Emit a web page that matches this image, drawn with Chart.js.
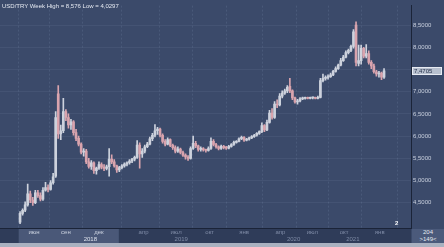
<!DOCTYPE html>
<html>
<head>
<meta charset="utf-8">
<script src="https://cdn.jsdelivr.net/npm/chart.js"></script>
<style>
html, body { margin: 0; padding: 0; background: #3b4a6a; }
#wrap { position: relative; width: 444px; height: 247px; overflow: hidden; }
#title { position: absolute; left: 2px; top: 3px; font: 6px 'Liberation Sans', Arial, sans-serif; color: #e4e8f0; white-space: nowrap; }
#corner { position: absolute; left: 412px; top: 229px; width: 32px; height: 14px; background: #4b5a7b; font: 6px 'Liberation Sans', Arial, sans-serif; color: #e4e8f0; text-align: center; line-height: 7px; }
#mark { position: absolute; left: 395px; top: 220px; font: bold 6px 'Liberation Sans', Arial, sans-serif; color: #ffffff; }
</style>
</head>
<body>
<div id="wrap">
  <canvas id="usdtry" width="444" height="247"></canvas>
  <div id="title">USD/TRY Week High = 8,576 Low = 4,0297</div>
  <div id="mark">2</div>
  <div id="corner">204<br>&gt;149&lt;</div>
</div>
<script>
// weekly candles, week 0 = 30 Apr 2018
var opens = [4.06,4.26,4.33,4.45,4.70,4.56,4.50,4.72,4.66,4.58,4.78,4.84,4.80,4.95,5.10,6.95,6.05,6.12,6.55,6.42,
  6.25,6.32,6.08,5.95,5.82,5.64,5.66,5.42,5.32,5.40,5.22,5.28,5.36,5.30,5.27,5.31,5.48,5.42,5.33,5.24,
  5.29,5.33,5.37,5.40,5.44,5.48,5.52,5.80,5.60,5.66,5.76,5.82,5.94,6.02,6.12,6.16,6.02,5.88,5.82,5.92,
  5.79,5.74,5.66,5.71,5.63,5.57,5.53,5.50,5.72,5.84,5.78,5.70,5.72,5.69,5.68,5.72,5.88,5.81,5.76,5.72,
  5.77,5.74,5.73,5.77,5.81,5.86,5.88,5.94,5.97,5.91,5.93,5.96,5.99,6.02,6.06,6.10,6.24,6.14,6.31,6.52,
  6.42,6.72,6.70,6.90,6.97,7.02,7.12,7.02,6.86,6.77,6.79,6.84,6.85,6.86,6.85,6.86,6.86,6.85,6.87,7.25,
  7.30,7.32,7.34,7.38,7.46,7.52,7.60,7.70,7.78,7.88,7.93,8.02,8.50,7.64,7.70,7.98,7.80,7.86,7.66,7.58,
  7.45,7.40,7.42,7.33];
var highs = [4.30,4.36,4.52,4.92,4.76,4.62,4.78,4.78,4.72,4.84,4.96,4.90,5.00,5.16,6.55,7.14,6.25,6.85,6.60,6.50,
  6.38,6.35,6.15,6.00,5.85,5.72,5.70,5.50,5.45,5.42,5.30,5.42,5.40,5.36,5.35,5.72,5.58,5.47,5.35,5.32,
  5.36,5.40,5.42,5.47,5.50,5.55,5.90,5.85,5.72,5.80,5.86,5.98,6.06,6.26,6.20,6.18,6.05,5.92,5.96,5.94,
  5.82,5.78,5.76,5.73,5.66,5.60,5.56,5.76,6.00,5.88,5.80,5.76,5.74,5.71,5.76,5.96,5.92,5.84,5.78,5.80,
  5.79,5.77,5.79,5.83,5.89,5.90,5.96,6.00,5.99,5.95,5.98,6.01,6.04,6.08,6.12,6.30,6.26,6.36,6.58,6.62,
  6.78,6.82,6.96,7.02,7.06,7.14,7.30,7.04,6.88,6.83,6.87,6.88,6.88,6.88,6.88,6.88,6.88,6.90,7.30,7.40,
  7.36,7.38,7.42,7.48,7.56,7.62,7.75,7.82,7.92,7.96,8.05,8.40,8.576,8.05,8.05,8.00,8.06,7.92,7.70,7.62,
  7.48,7.46,7.44,7.52];
var lows = [4.0297,4.22,4.30,4.42,4.50,4.44,4.48,4.62,4.54,4.55,4.76,4.74,4.78,4.92,5.07,5.95,5.92,6.08,6.35,6.18,
  6.15,6.02,5.90,5.78,5.60,5.55,5.38,5.28,5.25,5.16,5.14,5.25,5.26,5.22,5.24,5.10,5.38,5.30,5.18,5.20,
  5.26,5.30,5.33,5.37,5.40,5.44,5.50,5.28,5.52,5.62,5.74,5.80,5.90,5.98,6.04,5.98,5.84,5.78,5.80,5.76,
  5.70,5.62,5.63,5.60,5.54,5.48,5.45,5.48,5.70,5.74,5.66,5.66,5.66,5.64,5.66,5.70,5.78,5.73,5.69,5.70,
  5.71,5.70,5.71,5.75,5.79,5.84,5.87,5.92,5.88,5.89,5.91,5.94,5.97,6.00,6.04,6.08,6.10,6.12,6.29,6.38,
  6.40,6.64,6.68,6.86,6.94,6.98,6.98,6.82,6.74,6.72,6.77,6.82,6.83,6.84,6.84,6.84,6.84,6.84,6.86,7.22,
  7.26,7.28,7.32,7.36,7.44,7.50,7.58,7.68,7.76,7.85,7.90,7.98,7.58,7.58,7.62,7.76,7.76,7.62,7.52,7.42,
  7.35,7.33,7.27,7.30];
var closes = [4.26,4.33,4.45,4.70,4.56,4.50,4.72,4.66,4.58,4.78,4.84,4.80,4.95,5.08,6.42,6.05,6.12,6.55,6.42,6.25,
  6.32,6.08,5.95,5.82,5.64,5.66,5.42,5.32,5.40,5.22,5.28,5.36,5.30,5.27,5.31,5.48,5.42,5.33,5.24,5.29,
  5.33,5.37,5.40,5.44,5.48,5.52,5.80,5.60,5.66,5.76,5.82,5.94,6.02,6.12,6.16,6.02,5.88,5.82,5.92,5.79,
  5.74,5.66,5.71,5.63,5.57,5.53,5.50,5.72,5.84,5.78,5.70,5.72,5.69,5.68,5.72,5.88,5.81,5.76,5.72,5.77,
  5.74,5.73,5.77,5.81,5.86,5.88,5.94,5.97,5.91,5.93,5.96,5.99,6.02,6.06,6.10,6.24,6.14,6.31,6.52,6.42,
  6.72,6.70,6.90,6.97,7.02,7.10,7.02,6.86,6.77,6.79,6.84,6.85,6.86,6.85,6.86,6.86,6.85,6.87,7.25,7.30,
  7.32,7.34,7.38,7.46,7.52,7.60,7.70,7.78,7.88,7.93,8.02,8.35,7.66,7.70,7.98,7.80,7.86,7.66,7.58,7.45,
  7.40,7.42,7.33,7.4705];

// axis ticks (x in weeks from start)
var monthTicks = [5.5, 18, 31, 48.5, 61.3, 74.5, 88, 102.3, 114.8, 127.3, 141.3];
var monthLabels = ["июн", "сен", "дек", "апр", "июл", "окт", "янв", "апр", "июл", "окт", "янв"];
var yearTicks = [18, 61.3, 114.8, 143];
var yearLabels = ["2018", "2019", "2020", "2021"];
var yearBand = [-0.54, 38.8];
var priceTicks = [4.5, 5, 5.5, 6, 6.5, 7, 7.5, 8, 8.5];

var upColor = '#cdd2dd';
var downColor = '#d9a4ae';
var candleColors = closes.map(function (c, i) { return c >= opens[i] ? upColor : downColor; });

var wicks = closes.map(function (c, i) { return { x: i, y: [lows[i], highs[i]] }; });
var bodies = closes.map(function (c, i) { return { x: i, y: [opens[i], c] }; });

var fmt = function (v) { return v.toFixed(4).replace('.', ','); };

var backdrop = {
  id: 'backdrop',
  beforeDraw: function (chart) {
    var ctx = chart.ctx, a = chart.chartArea, x = chart.scales.x, x2 = chart.scales.x2;
    ctx.save();
    ctx.fillStyle = '#3b4a6a';
    ctx.fillRect(0, 0, chart.width, chart.height);
    ctx.fillStyle = '#2f3c59';
    ctx.fillRect(0, a.bottom, a.right, x2.bottom - a.bottom);
    var b0 = x.getPixelForValue(yearBand[0]), b1 = x.getPixelForValue(yearBand[1]);
    ctx.fillStyle = '#4a5878';
    ctx.fillRect(b0, a.bottom, b1 - b0, x2.bottom - a.bottom);
    ctx.fillStyle = '#a9b1c0';
    ctx.fillRect(0, x2.bottom, chart.width, chart.height - x2.bottom);
    ctx.restore();
  },
  afterDraw: function (chart) {
    var ctx = chart.ctx, y = chart.scales.y, a = chart.chartArea;
    var last = closes[closes.length - 1];
    var py = Math.round(y.getPixelForValue(last));
    ctx.save();
    ctx.fillStyle = '#b7c0cf';
    ctx.fillRect(a.right + 1, py - 4, 30, 8);
    ctx.strokeStyle = '#e6eaf2';
    ctx.lineWidth = 1;
    ctx.strokeRect(a.right + 1.5, py - 3.5, 29, 7);
    ctx.fillStyle = '#26314b';
    ctx.font = "6px 'Liberation Sans', Arial, sans-serif";
    ctx.textBaseline = 'middle';
    ctx.fillText(fmt(last), a.right + 3, py + 0.5);
    ctx.restore();
  }
};

var usdtry = document.getElementById("usdtry");
var usdtryConfig = {
  type: 'bar',
  data: {
    datasets: [{
      data: wicks,
      backgroundColor: candleColors,
      barThickness: 1,
      grouped: false
    }, {
      data: bodies,
      backgroundColor: candleColors,
      barThickness: 2,
      minBarLength: 1,
      grouped: false
    }]
  },
  options: {
    responsive: false,
    devicePixelRatio: 1,
    animation: false,
    layout: { padding: { left: 0, right: 0, top: 0, bottom: 4 } },
    plugins: { legend: { display: false }, tooltip: { enabled: false } },
    scales: {
      x: {
        type: 'linear',
        position: 'bottom',
        weight: 0,
        min: -0.54,
        max: 146.25,
        afterBuildTicks: function (axis) { axis.ticks = monthTicks.map(function (v) { return { value: v }; }); },
        afterFit: function (axis) { axis.height = 7; },
        ticks: {
          autoSkip: false,
          maxRotation: 0,
          padding: 1,
          font: { family: "'Liberation Sans', Arial, sans-serif", size: 6 },
          color: function (c) { return c.tick && c.tick.value < yearBand[1] ? '#c9d0de' : '#7f8ba6'; },
          callback: function (v, i) { return monthLabels[i]; }
        },
        grid: { color: 'rgba(150,166,200,0.16)', drawTicks: false },
        border: { color: '#1b2438', dash: [2, 2] }
      },
      x2: {
        type: 'linear',
        position: 'bottom',
        weight: 1,
        min: -0.54,
        max: 146.25,
        afterBuildTicks: function (axis) { axis.ticks = yearTicks.map(function (v) { return { value: v }; }); },
        afterFit: function (axis) { axis.height = 8; },
        ticks: {
          autoSkip: false,
          maxRotation: 0,
          padding: 1,
          font: { family: "'Liberation Sans', Arial, sans-serif", size: 6 },
          color: function (c) { return c.tick && c.tick.value < yearBand[1] ? '#dde2ec' : '#7f8ba6'; },
          callback: function (v, i) { return yearLabels[i]; }
        },
        grid: { display: false, drawTicks: false },
        border: { display: false }
      },
      y: {
        type: 'linear',
        position: 'right',
        min: 3.93,
        max: 8.94,
        afterBuildTicks: function (axis) { axis.ticks = priceTicks.map(function (v) { return { value: v }; }); },
        afterFit: function (axis) { axis.width = 33; },
        ticks: {
          padding: 2,
          font: { family: "'Liberation Sans', Arial, sans-serif", size: 6 },
          color: '#c9d0de',
          callback: function (v) { return fmt(v); }
        },
        grid: { color: 'rgba(150,166,200,0.10)', drawTicks: false },
        border: { color: '#1b2438' }
      }
    }
  },
  plugins: [backdrop]
};
var usdtryObj = new Chart(usdtry, usdtryConfig);
</script>
</body>
</html>
